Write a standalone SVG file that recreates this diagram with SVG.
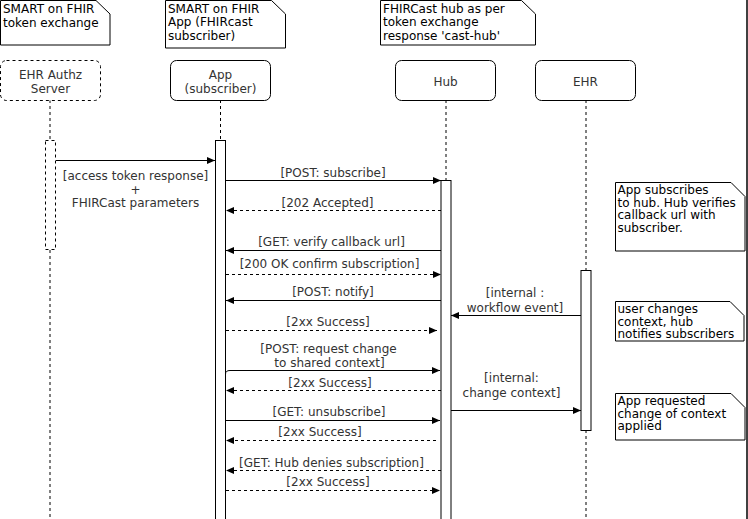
<svg xmlns="http://www.w3.org/2000/svg" width="748" height="519" viewBox="0 0 748 519">
<style>
text{font-family:"DejaVu Sans",Verdana,sans-serif;font-size:12px}
.lbl{fill:#333}
.nt{fill:#000}
.mid{text-anchor:middle}
.life{stroke:#000;stroke-width:1;stroke-dasharray:3 3;fill:none}
.box{fill:#fff;stroke:#000;stroke-width:1}
.dbox{fill:#fff;stroke:#000;stroke-width:1;stroke-dasharray:3 3}
.act{fill:#fff;stroke:#000;stroke-width:1}
.note{fill:#fff;stroke:#000;stroke-width:1}
.msg{stroke:#000;stroke-width:1;fill:none;marker-end:url(#arr)}
.ret{stroke-dasharray:3 3}
</style>
<defs>
<marker id="arr" markerUnits="userSpaceOnUse" markerWidth="9" markerHeight="8" refX="8" refY="3.5" orient="auto">
<path d="M0,0 L8,3.5 L0,7 Z" fill="#000"/>
</marker>
</defs>
<rect x="0" y="0" width="748" height="519" fill="#fff"/>
<line x1="747" y1="0" x2="747" y2="519" stroke="#000" stroke-width="1.5"/>

<g id="note-token">
<path class="note" d="M0.5,0.5 H96 L110,14 V45 H0.5 Z"/>
<text class="nt" x="3" y="12.5">SMART on FHIR</text>
<text class="nt" x="3" y="26.5">token exchange</text>
</g>
<g id="note-app">
<path class="note" d="M165.5,0.5 H271.5 L285.5,14 V48 H165.5 Z"/>
<text class="nt" x="168" y="12.5">SMART on FHIR</text>
<text class="nt" x="168" y="26">App (FHIRcast</text>
<text class="nt" x="168" y="39.5">subscriber)</text>
</g>
<g id="note-hub">
<path class="note" d="M380.5,0.5 H521.5 L535.5,14 V45 H380.5 Z"/>
<text class="nt" x="383" y="12.5">FHIRCast hub as per</text>
<text class="nt" x="383" y="26">token exchange</text>
<text class="nt" x="383" y="39.5">response 'cast-hub'</text>
</g>

<g id="authz">
<line class="life" x1="50" y1="100" x2="50" y2="519"/>
<rect class="dbox" x="0.5" y="60.5" width="100" height="40" rx="6"/>
<text class="lbl mid" x="50.5" y="79">EHR Authz</text>
<text class="lbl mid" x="50.5" y="92.5">Server</text>
<rect class="dbox" x="45.5" y="140.5" width="10" height="109"/>
</g>
<g id="app">
<line class="life" x1="220.5" y1="100" x2="220.5" y2="140"/>
<rect class="box" x="170.5" y="60.5" width="100" height="40" rx="6"/>
<text class="lbl mid" x="220.5" y="79">App</text>
<text class="lbl mid" x="220.5" y="92.5">(subscriber)</text>
<rect class="act" x="215.5" y="140.5" width="10" height="385"/>
</g>
<g id="hub">
<line class="life" x1="446" y1="100" x2="446" y2="180"/>
<rect class="box" x="395.5" y="60.5" width="100" height="40" rx="6"/>
<text class="lbl mid" x="445.5" y="85.5">Hub</text>
<rect class="act" x="441" y="180.5" width="10" height="345"/>
</g>
<g id="ehr">
<line class="life" x1="586" y1="100" x2="586" y2="519"/>
<rect class="box" x="535.5" y="60.5" width="100" height="40" rx="6"/>
<text class="lbl mid" x="585.5" y="85.5">EHR</text>
<rect class="act" x="581" y="270.5" width="10" height="160"/>
</g>

<g id="note-subscribe">
<path class="note" d="M615.5,182.5 H731 L745,196.5 V251 H615.5 Z"/>
<text class="nt" x="617.5" y="194">App subscribes</text>
<text class="nt" x="617.5" y="206.5">to hub. Hub verifies</text>
<text class="nt" x="617.5" y="219">callback url with</text>
<text class="nt" x="617.5" y="231.5">subscriber.</text>
</g>
<g id="note-context">
<path class="note" d="M615.5,301.5 H730 L744,315.5 V341 H615.5 Z"/>
<text class="nt" x="617.5" y="313">user changes</text>
<text class="nt" x="617.5" y="325.5">context, hub</text>
<text class="nt" x="617.5" y="338">notifies subscribers</text>
</g>
<g id="note-applied">
<path class="note" d="M615.5,393.5 H731 L745,407.5 V440 H615.5 Z"/>
<text class="nt" x="617.5" y="405">App requested</text>
<text class="nt" x="617.5" y="417.5">change of context</text>
<text class="nt" x="617.5" y="430">applied</text>
</g>

<g id="connectors">
<line class="msg" x1="56" y1="160.5" x2="215" y2="160.5"/>
<line class="msg" x1="226" y1="180.5" x2="441" y2="180.5"/>
<line class="msg ret" x1="441" y1="210.5" x2="226" y2="210.5"/>
<line class="msg" x1="441" y1="250.5" x2="226" y2="250.5"/>
<line class="msg ret" x1="226" y1="274.5" x2="441" y2="274.5"/>
<line class="msg" x1="441" y1="300.5" x2="226" y2="300.5"/>
<line class="msg ret" x1="226" y1="330.5" x2="437" y2="330.5"/>
<line class="msg" x1="581" y1="315.5" x2="451" y2="315.5"/>
<path class="msg" d="M225.5,374 Q225.5,370.5 230,370.5 H440"/>
<line class="msg ret" x1="441" y1="390.5" x2="226" y2="390.5"/>
<line class="msg" x1="451" y1="410.5" x2="581" y2="410.5"/>
<line class="msg" x1="226" y1="420.5" x2="440" y2="420.5"/>
<line class="msg ret" x1="436" y1="440.5" x2="226" y2="440.5"/>
<line class="msg ret" x1="441" y1="470.5" x2="226" y2="470.5"/>
<line class="msg ret" x1="226" y1="490.5" x2="440" y2="490.5"/>

<text class="lbl mid" x="135.5" y="179.5">[access token response]</text>
<text class="lbl mid" x="135.5" y="193.5">+</text>
<text class="lbl mid" x="135.5" y="207">FHIRCast parameters</text>
<text class="lbl mid" x="333" y="176.5">[POST: subscribe]</text>
<text class="lbl mid" x="327.5" y="206.5">[202 Accepted]</text>
<text class="lbl mid" x="331.5" y="246">[GET: verify callback url]</text>
<text class="lbl mid" x="329.5" y="268">[200 OK confirm subscription]</text>
<text class="lbl mid" x="333" y="296">[POST: notify]</text>
<text class="lbl mid" x="328" y="325.5">[2xx Success]</text>
<text class="lbl mid" x="515" y="297">[internal :</text>
<text class="lbl mid" x="515" y="311.5">workflow event]</text>
<text class="lbl mid" x="328.5" y="353">[POST: request change</text>
<text class="lbl mid" x="329.5" y="367">to shared context]</text>
<text class="lbl mid" x="330" y="386.5">[2xx Success]</text>
<text class="lbl mid" x="511.5" y="382">[internal:</text>
<text class="lbl mid" x="511.5" y="396.5">change context]</text>
<text class="lbl mid" x="329" y="415.5">[GET: unsubscribe]</text>
<text class="lbl mid" x="320" y="436">[2xx Success]</text>
<text class="lbl mid" x="331.5" y="466.5">[GET: Hub denies subscription]</text>
<text class="lbl mid" x="328" y="486">[2xx Success]</text>
</g>
</svg>
